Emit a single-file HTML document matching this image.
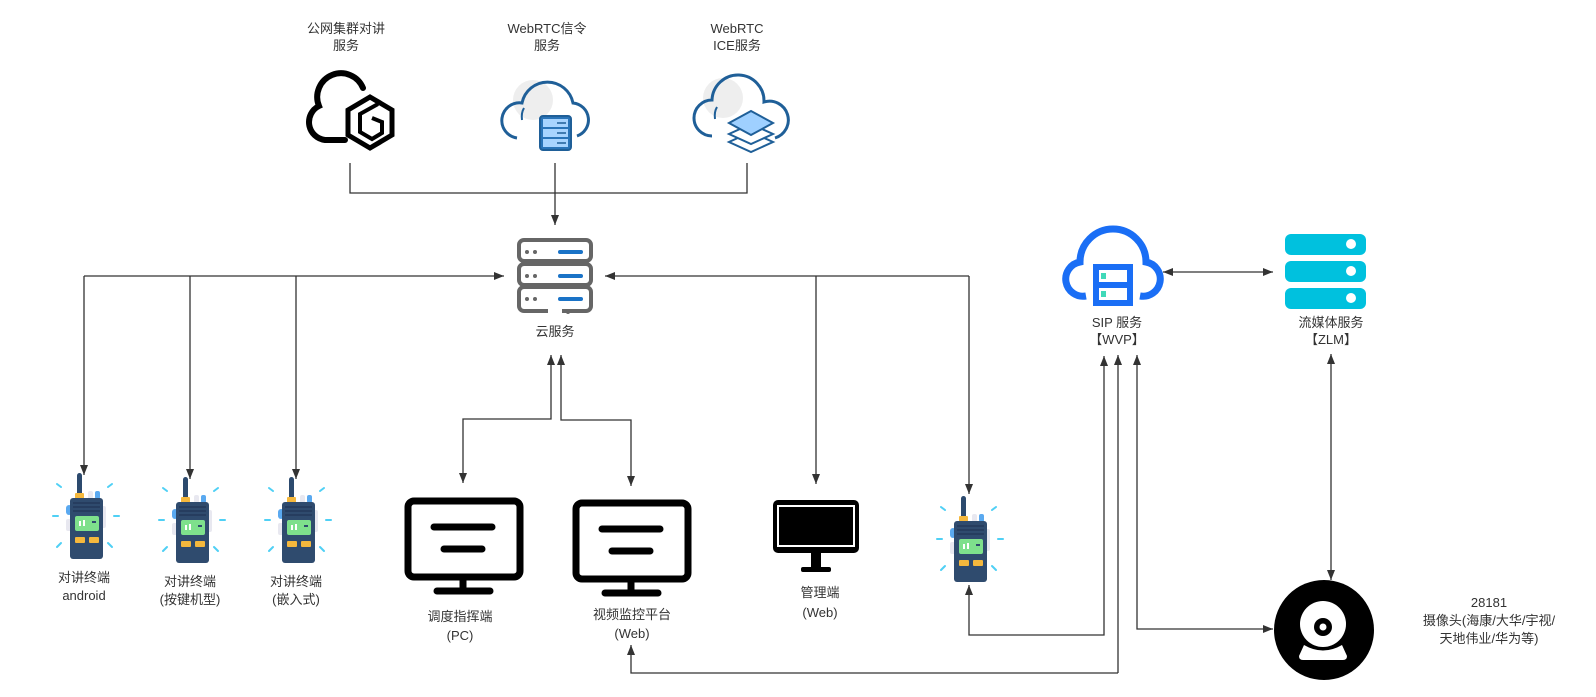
<!DOCTYPE html>
<html><head><meta charset="utf-8"><style>
html,body{margin:0;padding:0;background:#fff}
svg{display:block}
text{font-family:"Liberation Sans","Noto Sans CJK SC",sans-serif;font-size:13px;fill:#333;text-anchor:middle}
</style></head><body>
<svg width="1596" height="697" viewBox="0 0 1596 697" xmlns="http://www.w3.org/2000/svg">
<defs>
<marker id="a" viewBox="0 0 10 10" refX="10" refY="5" markerWidth="10" markerHeight="10" markerUnits="userSpaceOnUse" orient="auto-start-reverse">
<path d="M0,1 L10,5 L0,9 Z" fill="#333"/></marker>
<g id="w">
<g stroke="#4fd0f5" stroke-width="2" stroke-linecap="round">
<line x1="-29" y1="11" x2="-25" y2="14"/><line x1="26" y1="11" x2="22" y2="14"/>
<line x1="-33" y1="43" x2="-28" y2="43"/><line x1="28" y1="43" x2="33" y2="43"/>
<line x1="-29" y1="74" x2="-25" y2="70"/><line x1="26" y1="74" x2="22" y2="70"/>
</g>
<rect x="-9" y="0" width="5" height="24" rx="2.5" fill="#2c4a6e"/>
<rect x="2" y="18" width="5" height="8" rx="2" fill="#e8e8f0"/>
<rect x="9" y="18" width="5" height="8" rx="2" fill="#5aa9f0"/>
<rect x="-11" y="20" width="9" height="6" rx="1" fill="#f5b83d"/>
<rect x="14" y="33" width="6" height="22" rx="2" fill="#e8e8f0"/>
<rect x="-20" y="32" width="6" height="10" rx="3" fill="#5aa9f0"/>
<rect x="-20" y="46" width="6" height="12" rx="2" fill="#e8e8f0"/>
<rect x="-16" y="25" width="33" height="61" rx="3" fill="#2f4b6e"/>
<g stroke="#23395a" stroke-width="1.5"><line x1="-13" y1="30" x2="14" y2="30"/><line x1="-13" y1="34" x2="14" y2="34"/><line x1="-13" y1="38" x2="14" y2="38"/></g>
<rect x="-11" y="43" width="24" height="15" rx="2" fill="#7ee08c"/>
<rect x="-7" y="48" width="2" height="5" fill="#fff"/><rect x="-3" y="47" width="2" height="6" fill="#fff"/>
<rect x="6" y="48" width="4" height="2" fill="#2f4b6e"/>
<rect x="-11" y="64" width="10" height="6" rx="1" fill="#f5b83d"/><rect x="3" y="64" width="10" height="6" rx="1" fill="#f5b83d"/>
</g>
</defs>

<!-- top labels -->
<text x="346" y="33">公网集群对讲</text><text x="346" y="50">服务</text>
<text x="547" y="33">WebRTC信令</text><text x="547" y="50">服务</text>
<text x="737" y="33">WebRTC</text><text x="737" y="50">ICE服务</text>

<!-- cloud 1 black -->
<path d="M345,140 H325 A18,18 0 0 1 319,106 A22,22 0 0 1 363,88" fill="none" stroke="#000" stroke-width="6" stroke-linecap="round"/>
<polygon points="370,97 392,110 392,135 370,148 348,135 348,110" fill="none" stroke="#000" stroke-width="5"/>
<polyline points="378,104 360,114 360,132 372,139 382,133 382,122 372,118" fill="none" stroke="#000" stroke-width="4"/>

<!-- cloud 2 -->
<circle cx="533" cy="100" r="20" fill="#eee"/>
<path d="M517,138 A17,17 0 0 1 522,103 A26,26 0 0 1 573,103 A17,17 0 0 1 577,136" fill="none" stroke="#1f5f98" stroke-width="3"/>
<path d="M524,108 q-3,5 -2,12" fill="none" stroke="#1f5f98" stroke-width="2"/>
<rect x="540" y="116" width="31" height="34" rx="3" fill="#2a74b8" stroke="#1f5f98" stroke-width="2"/>
<g fill="#a8d4ff"><rect x="543" y="119" width="25" height="8"/><rect x="543" y="129" width="25" height="8"/><rect x="543" y="139" width="25" height="8"/></g>
<g stroke="#1f5f98" stroke-width="1.5"><line x1="557" y1="123" x2="566" y2="123"/><line x1="557" y1="133" x2="566" y2="133"/><line x1="557" y1="143" x2="566" y2="143"/></g>

<!-- cloud 3 -->
<circle cx="723" cy="98" r="20" fill="#eee"/>
<path d="M712,136 A17,17 0 0 1 712,100 A26,26 0 0 1 764,102 A17,17 0 0 1 775,138" fill="none" stroke="#1f5f98" stroke-width="3"/>
<path d="M717,107 q-3,5 -2,12" fill="none" stroke="#1f5f98" stroke-width="2"/>
<polygon points="751,132 773,142 751,152 729,142" fill="#fff" stroke="#1f5f98" stroke-width="2"/>
<polygon points="751,124 773,134 751,144 729,134" fill="#fff" stroke="#1f5f98" stroke-width="2"/>
<polygon points="751,111 773,123 751,135 729,123" fill="#9fd0ff" stroke="#1f5f98" stroke-width="2"/>

<!-- top connectors -->
<g fill="none" stroke="#333" stroke-width="1.3">
<polyline points="350,163 350,193 747,193 747,163"/>
<line x1="555" y1="163" x2="555" y2="225" marker-end="url(#a)"/>
</g>

<!-- cloud server -->
<g fill="#fff" stroke="#666" stroke-width="4">
<rect x="519" y="240" width="72" height="21" rx="5"/><rect x="519" y="264" width="72" height="21" rx="5"/><rect x="519" y="287" width="72" height="24" rx="5"/>
</g>
<g fill="#666"><circle cx="527" cy="252" r="2"/><circle cx="535" cy="252" r="2"/><circle cx="527" cy="276" r="2"/><circle cx="535" cy="276" r="2"/><circle cx="527" cy="299" r="2"/><circle cx="535" cy="299" r="2"/></g>
<rect x="548" y="309" width="14" height="6" fill="#fff"/><circle cx="568" cy="312" r="2" fill="#666"/>
<g stroke="#1a73c7" stroke-width="4" stroke-linecap="round"><line x1="560" y1="252" x2="581" y2="252"/><line x1="560" y1="276" x2="581" y2="276"/><line x1="560" y1="299" x2="581" y2="299"/></g>
<text x="555" y="336">云服务</text>

<!-- left connectors -->
<g fill="none" stroke="#333" stroke-width="1.3">
<line x1="84" y1="276" x2="504" y2="276" marker-end="url(#a)"/>
<line x1="84" y1="276" x2="84" y2="475" marker-end="url(#a)"/>
<line x1="190" y1="276" x2="190" y2="479" marker-end="url(#a)"/>
<line x1="296" y1="276" x2="296" y2="479" marker-end="url(#a)"/>
<line x1="969" y1="276" x2="605" y2="276" marker-end="url(#a)"/>
<line x1="969" y1="276" x2="969" y2="494" marker-end="url(#a)"/>
<line x1="816" y1="276" x2="816" y2="484" marker-end="url(#a)"/>
<polyline points="551,355 551,419 463,419 463,483" marker-start="url(#a)" marker-end="url(#a)"/>
<polyline points="561,355 561,420 631,420 631,486" marker-start="url(#a)" marker-end="url(#a)"/>
</g>

<!-- walkies -->
<use href="#w" x="86" y="473"/>
<use href="#w" x="192" y="477"/>
<use href="#w" x="298" y="477"/>
<g transform="translate(970,496) scale(1.0)"><use href="#w"/></g>
<text x="84" y="582">对讲终端</text><text x="84" y="600">android</text>
<text x="190" y="586">对讲终端</text><text x="190" y="604">(按键机型)</text>
<text x="296" y="586">对讲终端</text><text x="296" y="604">(嵌入式)</text>

<!-- monitors -->
<g fill="none" stroke="#000" stroke-width="7" stroke-linecap="round">
<rect x="408" y="501" width="112" height="76" rx="6"/><line x1="463" y1="580" x2="463" y2="590"/><line x1="437" y1="591" x2="490" y2="591"/>
<line x1="434" y1="527" x2="492" y2="527"/><line x1="444" y1="549" x2="482" y2="549"/>
<rect x="576" y="503" width="112" height="76" rx="6"/><line x1="631" y1="582" x2="631" y2="592"/><line x1="605" y1="593" x2="658" y2="593"/>
<line x1="602" y1="529" x2="660" y2="529"/><line x1="612" y1="551" x2="650" y2="551"/>
</g>
<rect x="773" y="500" width="86" height="53" rx="5" fill="#000"/>
<rect x="777" y="505" width="78" height="42" fill="#fff"/><rect x="779" y="507" width="74" height="38" fill="#000"/>
<rect x="811" y="553" width="10" height="15" fill="#000"/><rect x="801" y="567" width="30" height="5" rx="2" fill="#000"/>
<text x="460" y="621">调度指挥端</text><text x="460" y="640">(PC)</text>
<text x="632" y="619">视频监控平台</text><text x="632" y="638">(Web)</text>
<text x="820" y="597">管理端</text><text x="820" y="617">(Web)</text>

<!-- SIP cloud -->
<path d="M1086,296 A17,17 0 0 1 1080,262 A33,33 0 0 1 1146,262 A17,17 0 0 1 1140,296" fill="none" stroke="#1a6ef5" stroke-width="7"/>
<rect x="1093" y="264" width="40" height="42" fill="#1a6ef5"/>
<rect x="1099" y="270" width="28" height="12" fill="#fff"/><rect x="1099" y="288" width="28" height="12" fill="#fff"/>
<rect x="1101" y="273" width="5" height="6" fill="#40d9b8"/><rect x="1101" y="291" width="5" height="6" fill="#40d9b8"/>
<text x="1117" y="327">SIP 服务</text><text x="1117" y="344">【WVP】</text>

<!-- ZLM -->
<g fill="#00c1de"><rect x="1285" y="234" width="81" height="21" rx="6"/><rect x="1285" y="261" width="81" height="21" rx="6"/><rect x="1285" y="288" width="81" height="21" rx="6"/></g>
<g fill="#fff"><circle cx="1351" cy="244" r="5"/><circle cx="1351" cy="271" r="5"/><circle cx="1351" cy="298" r="5"/></g>
<text x="1331" y="327">流媒体服务</text><text x="1331" y="344">【ZLM】</text>

<!-- camera -->
<circle cx="1324" cy="630" r="50" fill="#000"/>
<circle cx="1323" cy="624" r="23" fill="#fff"/>
<circle cx="1323" cy="627" r="9" fill="#000"/><circle cx="1323" cy="627" r="3.5" fill="#fff"/>
<path d="M1304,645 Q1323,656 1342,645 L1347,656 Q1347,660 1343,660 H1303 Q1299,660 1299,656 Z" fill="#fff"/>
<text x="1489" y="607">28181</text>
<text x="1489" y="625">摄像头(海康/大华/宇视/</text>
<text x="1489" y="643">天地伟业/华为等)</text>

<!-- right connectors -->
<g fill="none" stroke="#333" stroke-width="1.3">
<line x1="1163" y1="272" x2="1273" y2="272" marker-start="url(#a)" marker-end="url(#a)"/>
<line x1="1331" y1="354" x2="1331" y2="580" marker-start="url(#a)" marker-end="url(#a)"/>
<polyline points="1104,356 1104,635 969,635 969,585" marker-start="url(#a)" marker-end="url(#a)"/>
<polyline points="1118,673 631,673 631,645" marker-end="url(#a)"/>
<line x1="1118" y1="673" x2="1118" y2="355" marker-end="url(#a)"/>
<polyline points="1137,355 1137,629 1273,629" marker-start="url(#a)" marker-end="url(#a)"/>
</g>
</svg>
</body></html>
